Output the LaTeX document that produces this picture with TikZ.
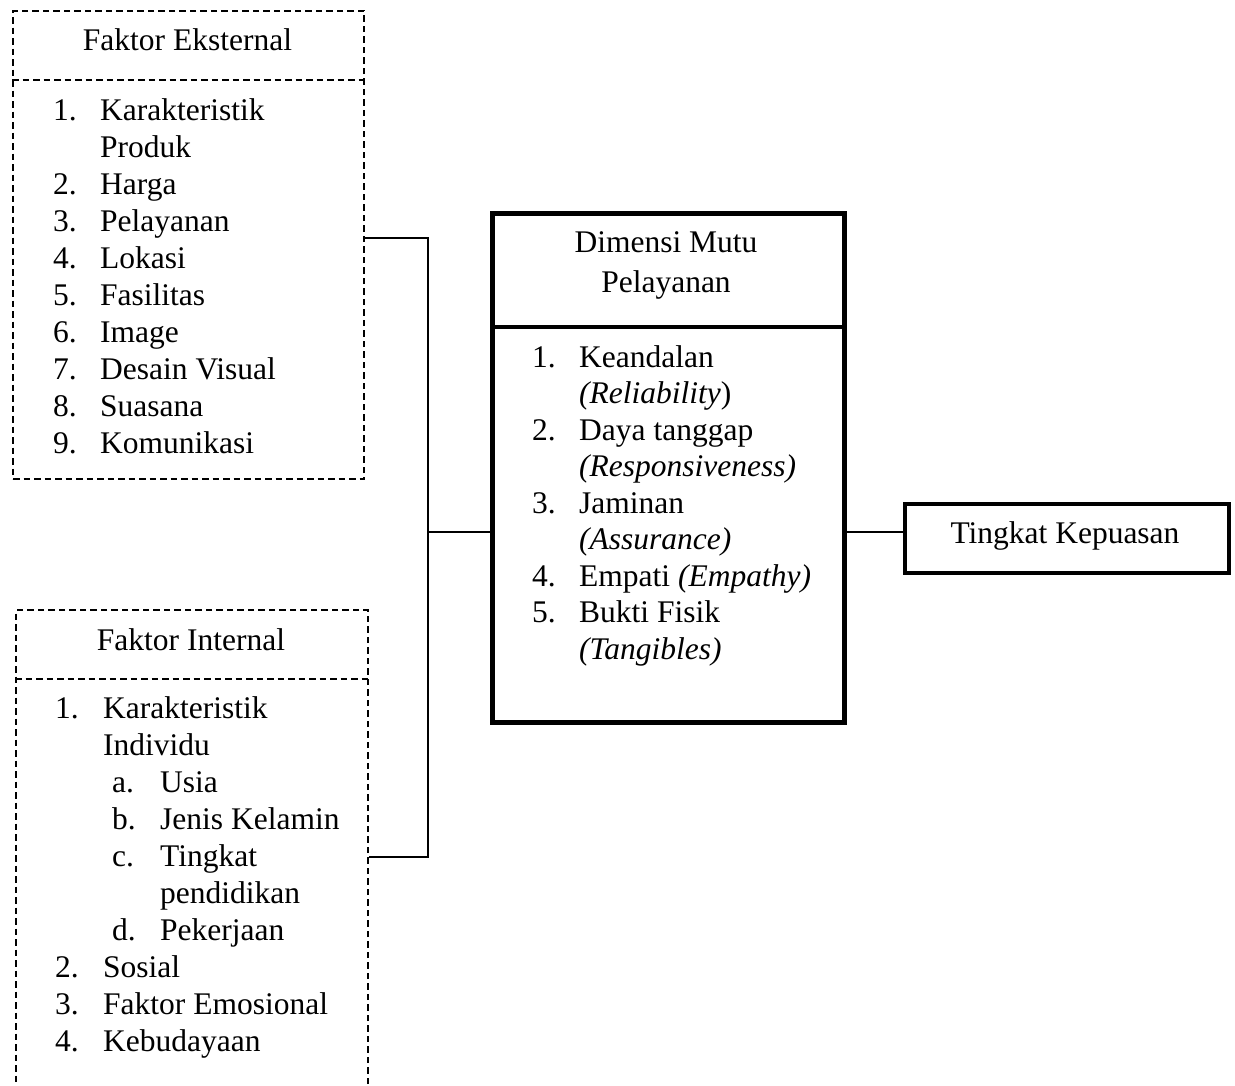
\documentclass[tikz,border=0pt]{standalone}
\usepackage{fontspec}
\setmainfont{Liberation Serif}
\begin{document}
\begin{tikzpicture}[x=1pt,y=-1pt,
  txt/.style={font=\fontsize{31.5}{36}\selectfont, inner sep=0pt, anchor=base west},
  ctxt/.style={font=\fontsize{31.5}{36}\selectfont, inner sep=0pt, anchor=base},
  dashln/.style={dash pattern=on 6.5pt off 4pt, line width=2pt},
  dbox/.style={draw, dashln, inner sep=0pt, anchor=north west},
  tbox/.style={draw, line width=4.5pt, inner sep=0pt, anchor=north west},
  conn/.style={draw, line width=2pt}]
\useasboundingbox (0,0) rectangle (1235,1085);
% boxes
\node[dbox, minimum width=351pt, minimum height=468pt] (ext) at (12,10) {};
\draw[dashln] (ext.north west |- 0,80) -- (ext.north east |- 0,80);
\node[dbox, minimum width=352pt, minimum height=500pt] (intl) at (15,609) {};
\draw[dashln] (intl.north west |- 0,679) -- (intl.north east |- 0,679);
\node[tbox, minimum width=352pt, minimum height=509pt] (dim) at (490,211) {};
\draw[line width=4.5pt] (dim.north west |- 0,327) -- (dim.north east |- 0,327);
\node[tbox, line width=4pt, minimum width=324pt, minimum height=69pt] (tk) at (903,502) {};
% external text
\node[ctxt] (extt) at (187.5,50) {Faktor Eksternal};
\node[txt] (e1n) at (53,120) {1.};
\node[txt] (e1) at (100,120) {Karakteristik};
\node[txt] (e1b) at (100,157) {Produk};
\node[txt] (e2n) at (53,194) {2.};
\node[txt] (e2) at (100,194) {Harga};
\node[txt] (e3n) at (53,231) {3.};
\node[txt] (e3) at (100,231) {Pelayanan};
\node[txt] (e4n) at (53,268) {4.};
\node[txt] (e4) at (100,268) {Lokasi};
\node[txt] (e5n) at (53,305) {5.};
\node[txt] (e5) at (100,305) {Fasilitas};
\node[txt] (e6n) at (53,342) {6.};
\node[txt] (e6) at (100,342) {Image};
\node[txt] (e7n) at (53,379) {7.};
\node[txt] (e7) at (100,379) {Desain Visual};
\node[txt] (e8n) at (53,416) {8.};
\node[txt] (e8) at (100,416) {Suasana};
\node[txt] (e9n) at (53,453) {9.};
\node[txt] (e9) at (100,453) {Komunikasi};
% internal text
\node[ctxt] (intt) at (191,650) {Faktor Internal};
\node[txt] (i1n) at (55,718) {1.};
\node[txt] (i1) at (103,718) {Karakteristik};
\node[txt] (i1b) at (103,755) {Individu};
\node[txt] (ian) at (112,792) {a.};
\node[txt] (ia) at (160,792) {Usia};
\node[txt] (ibn) at (112,829) {b.};
\node[txt] (ib) at (160,829) {Jenis Kelamin};
\node[txt] (icn) at (112,866) {c.};
\node[txt] (ic) at (160,866) {Tingkat};
\node[txt] (icb) at (160,903) {pendidikan};
\node[txt] (idn) at (112,940) {d.};
\node[txt] (id) at (160,940) {Pekerjaan};
\node[txt] (i2n) at (55,977) {2.};
\node[txt] (i2) at (103,977) {Sosial};
\node[txt] (i3n) at (55,1014) {3.};
\node[txt] (i3) at (103,1014) {Faktor Emosional};
\node[txt] (i4n) at (55,1051) {4.};
\node[txt] (i4) at (103,1051) {Kebudayaan};
% dimensi text
\node[ctxt] (dt1) at (666,252) {Dimensi Mutu};
\node[ctxt] (dt2) at (666,292) {Pelayanan};
\node[txt] (d1n) at (532,367) {1.};
\node[txt] (d1) at (579,367) {Keandalan};
\node[txt] (d1b) at (579,403.5) {\textit{(Reliability})};
\node[txt] (d2n) at (532,440) {2.};
\node[txt] (d2) at (579,440) {Daya tanggap};
\node[txt] (d2b) at (579,476.5) {\textit{(Responsiveness)}};
\node[txt] (d3n) at (532,513) {3.};
\node[txt] (d3) at (579,513) {Jaminan};
\node[txt] (d3b) at (579,549.5) {\textit{(Assurance)}};
\node[txt] (d4n) at (532,586) {4.};
\node[txt] (d4) at (579,586) {Empati \textit{(Empathy)}};
\node[txt] (d5n) at (532,622.5) {5.};
\node[txt] (d5) at (579,622.5) {Bukti Fisik};
\node[txt] (d5b) at (579,659) {\textit{(Tangibles)}};
% tingkat
\node[ctxt] (tkt) at (1065,543) {Tingkat Kepuasan};
% connectors
\coordinate (jn) at (428,532);
\draw[conn] (ext.east |- 0,238) -| (jn);
\draw[conn] (intl.east |- 0,857) -| (jn);
\draw[conn] (jn) -- (dim.west |- jn);
\draw[conn] (dim.east |- jn) -- (tk.west |- jn);
\end{tikzpicture}
\end{document}
